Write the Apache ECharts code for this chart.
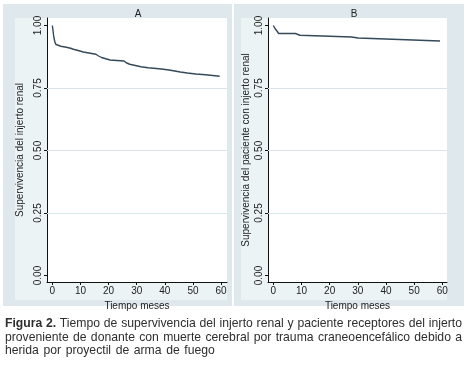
<!DOCTYPE html>
<html>
<head>
<meta charset="utf-8">
<script src="https://cdn.jsdelivr.net/npm/echarts@6/dist/echarts.min.js"></script>
<style>
  html, body { margin: 0; padding: 0; background: #ffffff; }
  #chart { position: absolute; left: 0; top: 0; width: 470px; height: 368px; }
  #caption { position: absolute; left: 5px; top: 317px; width: 457px;
    font-family: 'Liberation Sans', Arial, sans-serif; font-size: 12.2px; line-height: 13.6px; color: #2e2e2e; }
  #caption .j { text-align: justify; text-align-last: justify; }
</style>
</head>
<body>
<div id="chart"></div>
<div id="caption">
  <div class="j"><b>Figura 2.</b> Tiempo de supervivencia del injerto renal y paciente receptores del injerto</div>
  <div class="j">proveniente de donante con muerte cerebral por trauma craneoencefálico debido a</div>
  <div style="word-spacing:1.2px">herida por proyectil de arma de fuego</div>
</div>
<script>
// ---- data ----
const panelTitles = ['A', 'B'];
const xAxisName = 'Tiempo meses';
const yAxisNames = ['Supervivencia del injerto renal', 'Supervivencia del paciente con injerto renal'];
const xTicks = [0, 10, 20, 30, 40, 50, 60];
const yTicks = [0, 0.25, 0.5, 0.75, 1];
const yGridValues = [0.25, 0.5, 0.75];

// Panel A: graft survival (Kaplan-Meier step estimates)
const timeA = [0, 0.2, 0.4, 0.6, 0.9, 1.2, 1.8, 3.0, 5.0, 6.5, 7.5, 8.5, 9.8, 11.0, 12.5, 14.0, 15.5, 16.3, 17.5, 19.0, 20.5, 25.5, 26.3, 27.5, 29.5, 31.5, 34.0, 37.0, 39.5, 41.5, 43.5, 45.5, 48.0, 51.0, 54.5, 59.5];
const survA = [1.000, 0.985, 0.965, 0.950, 0.935, 0.925, 0.917, 0.913, 0.909, 0.905, 0.902, 0.898, 0.894, 0.891, 0.888, 0.885, 0.879, 0.872, 0.867, 0.862, 0.858, 0.851, 0.845, 0.840, 0.835, 0.831, 0.828, 0.825, 0.822, 0.818, 0.814, 0.810, 0.806, 0.803, 0.797, 0.797];

// Panel B: patient survival
const timeB = [0, 0.6, 1.3, 1.9, 7.8, 9.5, 27.8, 30.1, 47.2, 59.2];
const survB = [1.000, 0.988, 0.978, 0.968, 0.961, 0.954, 0.950, 0.943, 0.938, 0.938];

// ---- layout ----
const FONT = "'Liberation Sans', Arial, sans-serif";
const grids = [
  { left: 47, top: 18, width: 180, height: 264 },
  { left: 268, top: 18, width: 179, height: 264 }
];
const xRanges = [[-1.89, 62.1], [-1.88, 61.67]];
const yRange = [-0.026, 1.03];
const nameGaps = [22, 17];
const curves = [[timeA, survA], [timeB, survB]];

const chart = echarts.init(document.getElementById('chart'), null, { renderer: 'canvas' });

const option = {
  animation: false,
  backgroundColor: 'transparent',
  graphic: [
    { type: 'rect', z: -10, shape: { x: 3, y: 4, width: 229, height: 302 }, style: { fill: '#dfe9ed' } },
    { type: 'rect', z: -10, shape: { x: 234, y: 4, width: 230, height: 302 }, style: { fill: '#dfe9ed' } },
    { type: 'rect', z: -9, shape: { x: 15, y: 18, width: 212, height: 282 }, style: { fill: '#ecf3f5' } },
    { type: 'rect', z: -9, shape: { x: 241, y: 18, width: 206, height: 282 }, style: { fill: '#ecf3f5' } },
    { type: 'text', x: 138, y: 14, style: { text: panelTitles[0], align: 'center', verticalAlign: 'middle', font: '10px ' + FONT, fill: '#222' } },
    { type: 'text', x: 354, y: 14, style: { text: panelTitles[1], align: 'center', verticalAlign: 'middle', font: '10px ' + FONT, fill: '#222' } }
  ],
  grid: grids.map(g => Object.assign({ show: true, backgroundColor: '#ffffff', borderWidth: 0, outerBoundsMode: 'none' }, g)),
  xAxis: [0, 1].map(i => ({
    type: 'value', gridIndex: i, min: xRanges[i][0], max: xRanges[i][1],
    axisLine: { onZero: false, lineStyle: { color: '#111', width: 1 } },
    axisTick: { customValues: xTicks, length: 3, lineStyle: { color: '#111' } },
    axisLabel: { customValues: xTicks, margin: 4, fontSize: 10, fontFamily: FONT, color: '#222' },
    splitLine: { show: false },
    name: xAxisName, nameLocation: 'middle', nameGap: 15,
    nameTextStyle: { fontSize: 10, fontFamily: FONT, color: '#222' }
  })),
  yAxis: [0, 1].map(i => ({
    type: 'value', gridIndex: i, min: yRange[0], max: yRange[1],
    axisLine: { onZero: false, lineStyle: { color: '#111', width: 1 } },
    axisTick: { customValues: yTicks, length: 3, lineStyle: { color: '#111' } },
    axisLabel: { customValues: yTicks, rotate: 90, margin: 4, fontSize: 10, fontFamily: FONT, color: '#222',
      formatter: v => Number(v).toFixed(2) },
    splitLine: { show: false },
    name: yAxisNames[i], nameLocation: 'middle', nameGap: nameGaps[i], nameRotate: 90,
    nameTextStyle: { fontSize: 10, fontFamily: FONT, color: '#222' }
  })),
  series: [0, 1].map(i => ({
    type: 'line', xAxisIndex: i, yAxisIndex: i, step: 'end',
    showSymbol: false, symbol: 'none', silent: true,
    lineStyle: { color: '#34495a', width: 1.4 },
    data: curves[i][0].map((t, k) => [t, curves[i][1][k]]),
    markLine: {
      silent: true, symbol: ['none', 'none'], label: { show: false },
      lineStyle: { color: '#dae5ea', type: 'solid', width: 1 },
      data: yGridValues.map(v => ({ yAxis: v }))
    }
  }))
};
chart.setOption(option);
</script>
</body>
</html>
